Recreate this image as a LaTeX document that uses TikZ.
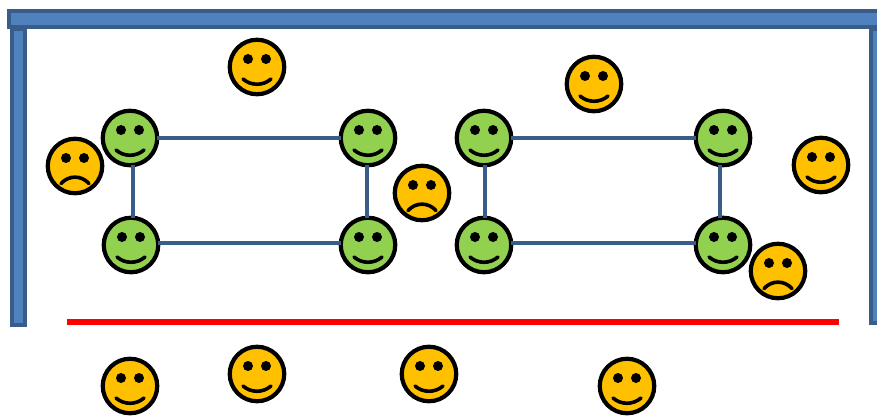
\documentclass[tikz,border=0pt]{standalone}
\definecolor{beamfill}{HTML}{4F81BD}
\definecolor{beamline}{HTML}{385D8A}
\definecolor{happygreen}{HTML}{92D050}
\definecolor{amberface}{HTML}{FFC000}
\tikzset{
  x=1pt,y=-1pt,
  face/.style={circle,draw=black,line width=4.2pt,minimum size=54.5pt,inner sep=0pt,outer sep=0pt},
  greenface/.style={face,fill=happygreen},
  amberfc/.style={face,fill=amberface},
  beam/.style={fill=beamfill,draw=beamline,line width=4pt},
  link/.style={draw=beamline,line width=4pt},
  redline/.style={draw=red,line width=5.5pt},
  mouth/.style={draw=black,line width=3.6pt,line cap=round},
}
\newcommand{\eyes}[1]{%
  \fill[black] ([shift={(-9,-8)}]#1.center) circle (5);
  \fill[black] ([shift={(9,-8)}]#1.center) circle (5);}
\newcommand{\happyface}[4]{%
  \node[#4] (#1) at (#2,#3) {};
  \eyes{#1}
  \draw[mouth] ([shift={(-14,12)}]#1.center) .. controls ([shift={(-6,19)}]#1.center) and ([shift={(6,19)}]#1.center) .. ([shift={(14,12)}]#1.center);}
\newcommand{\sadface}[4]{%
  \node[#4] (#1) at (#2,#3) {};
  \eyes{#1}
  \draw[mouth] ([shift={(-14,17.5)}]#1.center) .. controls ([shift={(-6,9)}]#1.center) and ([shift={(6,9)}]#1.center) .. ([shift={(14,17.5)}]#1.center);}
\begin{document}
\begin{tikzpicture}
\useasboundingbox (0,0) rectangle (877,417);
% frame
\draw[beam] (12,29) rectangle (25,324.5);
\draw[beam] (871,29) rectangle (880,323);
\draw[beam] (9,11) rectangle (880,27);
% red line
\coordinate (redL) at (67,322);
\coordinate (redR) at (839,322);
\draw[redline] (redL) -- (redR);
% green faces
\happyface{ga}{130}{138}{greenface}
\happyface{gb}{368}{138}{greenface}
\happyface{gc}{131}{245}{greenface}
\happyface{gd}{368}{245}{greenface}
\happyface{ge}{484}{138}{greenface}
\happyface{gf}{723}{138}{greenface}
\happyface{gg}{484}{245}{greenface}
\happyface{gh}{723}{245}{greenface}
% links
\draw[link] (ga.east) -- (gb.west);
\draw[link] ([yshift=2pt]gc.east) -- ([yshift=2pt]gd.west);
\draw[link] ([xshift=2.5pt]ga.south) -- ([xshift=1.5pt]gc.north);
\draw[link] ([xshift=-1pt]gb.south) -- ([xshift=-1pt]gd.north);
\draw[link] (ge.east) -- (gf.west);
\draw[link] ([yshift=2pt]gg.east) -- ([yshift=2pt]gh.west);
\draw[link] ([xshift=1pt]ge.south) -- ([xshift=1pt]gg.north);
\draw[link] ([xshift=-3pt]gf.south) -- ([xshift=-3pt]gh.north);
% amber faces
\happyface{ya}{257}{67}{amberfc}
\happyface{yb}{594}{84}{amberfc}
\sadface{yc}{75}{166}{amberfc}
\sadface{yd}{422}{193}{amberfc}
\happyface{ye}{821}{165}{amberfc}
\sadface{yf}{778}{271}{amberfc}
\happyface{yg}{130}{386}{amberfc}
\happyface{yh}{257}{374}{amberfc}
\happyface{yi}{429}{374}{amberfc}
\happyface{yj}{627}{386}{amberfc}
\end{tikzpicture}
\end{document}
